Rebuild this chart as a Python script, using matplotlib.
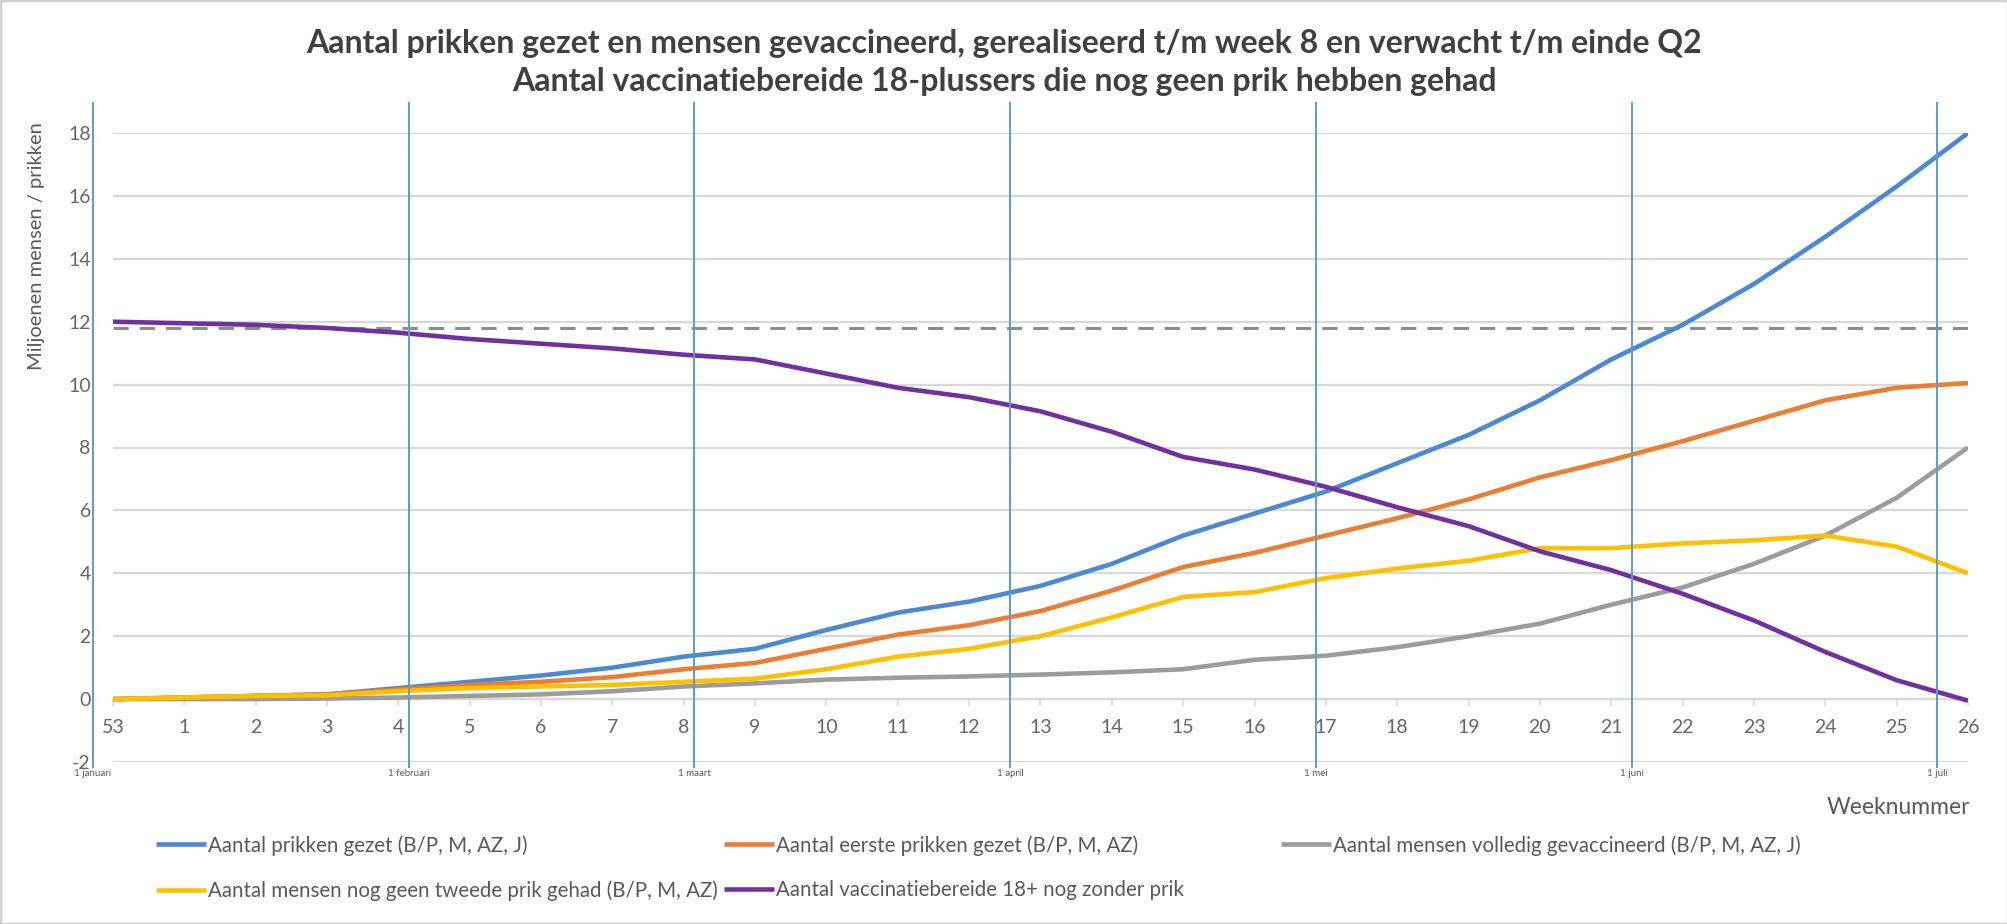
import datetime as dt
import matplotlib
matplotlib.use('Agg')
import matplotlib.pyplot as plt
from matplotlib.patches import Rectangle

plt.rcParams['font.family'] = ['Lato', 'DejaVu Sans']
plt.rcParams['axes.unicode_minus'] = False

# week numbers (week 53 of 2020, then weeks 1-26 of 2021)
weeks = ['53'] + [str(w) for w in range(1, 27)]
first_week_end = dt.date(2021, 1, 3)
jan1 = dt.date(2021, 1, 1)

# values in millions
prikken_gezet = [0.0, 0.05, 0.1, 0.15, 0.35, 0.55, 0.75, 1.0, 1.35, 1.6, 2.2, 2.75, 3.1,
                 3.6, 4.3, 5.2, 5.9, 6.6, 7.5, 8.4, 9.5, 10.8, 11.9, 13.2, 14.7, 16.3, 18.0]
eerste_prikken = [0.0, 0.05, 0.1, 0.15, 0.3, 0.45, 0.55, 0.7, 0.95, 1.15, 1.6, 2.05, 2.35,
                  2.8, 3.45, 4.2, 4.65, 5.2, 5.75, 6.35, 7.05, 7.6, 8.2, 8.85, 9.5, 9.9, 10.05]
volledig = [0.0, 0.0, 0.0, 0.02, 0.05, 0.1, 0.15, 0.25, 0.4, 0.5, 0.62, 0.68, 0.72,
            0.78, 0.85, 0.95, 1.25, 1.38, 1.65, 2.0, 2.4, 3.0, 3.55, 4.3, 5.2, 6.4, 8.0]
geen_tweede = [0.0, 0.05, 0.1, 0.12, 0.25, 0.35, 0.4, 0.45, 0.55, 0.65, 0.95, 1.35, 1.6,
               2.0, 2.6, 3.25, 3.4, 3.85, 4.15, 4.4, 4.8, 4.8, 4.95, 5.05, 5.2, 4.85, 4.0]
zonder_prik = [12.0, 11.95, 11.9, 11.8, 11.65, 11.45, 11.3, 11.15, 10.95, 10.8, 10.35, 9.9, 9.6,
               9.15, 8.5, 7.7, 7.3, 6.75, 6.1, 5.5, 4.7, 4.1, 3.35, 2.5, 1.5, 0.6, -0.05]
vaccinatiebereid = 11.8

month_labels = ['1 januari', '1 februari', '1 maart', '1 april', '1 mei', '1 juni', '1 juli']
month_dates = [dt.date(2021, m, 1) for m in range(1, 8)]

labels = ['Aantal prikken gezet (B/P, M, AZ, J)',
          'Aantal eerste prikken gezet (B/P, M, AZ)',
          'Aantal mensen volledig gevaccineerd (B/P, M, AZ, J)',
          'Aantal mensen nog geen tweede prik gehad (B/P, M, AZ)',
          'Aantal vaccinatiebereide 18+ nog zonder prik']
colors = ['#4A8AD4', '#ED7D31', '#9C9C9C', '#FFC000', '#7030A0']
series = [prikken_gezet, eerste_prikken, volledig, geen_tweede, zonder_prik]

x_weeks = [((first_week_end - jan1).days + 7 * i) for i in range(len(weeks))]
x_months = [(d - jan1).days for d in month_dates]

W, H = 2008, 924
fig = plt.figure(figsize=(W / 100, H / 100), dpi=100)
ax = fig.add_axes([113 / W, 162 / H, (1968 - 113) / W, (791 - 162) / H])

lines = []
for vals, c, lab in zip(series, colors, labels):
    ln, = ax.plot(x_weeks, vals, color=c, lw=3.3, label=lab, zorder=3,
                  solid_capstyle='butt', solid_joinstyle='round')
    lines.append(ln)

ax.axhline(vaccinatiebereid, color='#8C8C8C', lw=2.2, dashes=(5, 3.6), zorder=2)
ax.vlines(x_months, -2.2, 19, colors='#5B9BD5', lw=1.4, clip_on=False, zorder=4)

ax.set_xlim(x_weeks[0], x_weeks[-1])
ax.set_ylim(-2, 18)
ax.set_yticks(range(-2, 19, 2))
ax.yaxis.grid(True, color='#D9D9D9', lw=1.6)
ax.set_axisbelow(True)
ax.tick_params(axis='y', length=0, pad=16, labelsize=14, labelcolor='#666666')

for s in ['left', 'right', 'top']:
    ax.spines[s].set_visible(False)
ax.spines['bottom'].set_position(('data', 0))
ax.spines['bottom'].set_color('#D9D9D9')
ax.spines['bottom'].set_linewidth(1.6)
ax.set_xticks(x_weeks, weeks)
ax.tick_params(axis='x', length=5, width=1.2, color='#D9D9D9', pad=9,
               labelsize=14, labelcolor='#666666')

for xm, lab in zip(x_months, month_labels):
    ax.text(xm, -2.38, lab, ha='center', va='center', fontsize=7, color='#595959')

fig.text(0.5, 1 - 44 / H,
         'Aantal prikken gezet en mensen gevaccineerd, gerealiseerd t/m week 8 en verwacht t/m einde Q2',
         ha='center', va='center', fontsize=23, fontweight='bold', color='#404040')
fig.text(0.5, 1 - 81 / H,
         'Aantal vaccinatiebereide 18-plussers die nog geen prik hebben gehad',
         ha='center', va='center', fontsize=23, fontweight='bold', color='#404040')

fig.text(37 / W, 1 - 246 / H, 'Miljoenen mensen / prikken', rotation=90,
         ha='center', va='center', fontsize=14.5, color='#595959')
fig.text(1970 / W, 1 - 807 / H, 'Weeknummer', ha='right', va='center',
         fontsize=16.5, color='#595959')

# legend: three columns placed like the original
leg_cols = [([lines[0], lines[3]], 156), ([lines[1], lines[4]], 724), ([lines[2]], 1281)]
for hs, x0 in leg_cols:
    fig.legend(handles=hs, loc='upper left', bbox_to_anchor=(x0 / W, 1 - 835 / H),
               frameon=False, fontsize=14.8, labelcolor='#595959', handlelength=2.45,
               handletextpad=0.1, borderpad=0, borderaxespad=0, labelspacing=1.2)

fig.patches.append(Rectangle((0, 0), 1, 1, transform=fig.transFigure, fill=False,
                             ec='#D0D0D0', lw=2.5))

fig.savefig('out.png', dpi=100)
